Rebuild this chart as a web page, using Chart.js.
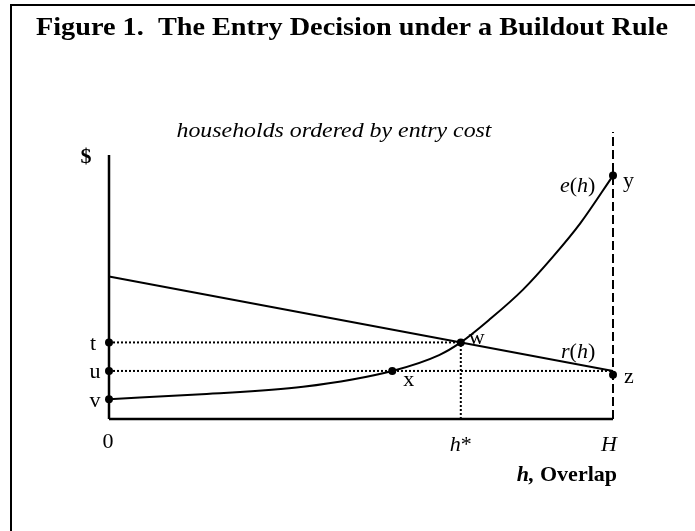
<!DOCTYPE html>
<html>
<head>
<meta charset="utf-8">
<title>Figure 1. The Entry Decision under a Buildout Rule</title>
<script src="https://cdn.jsdelivr.net/npm/chart.js"></script>
<style>
    body { margin: 0; background: #fff; }
    canvas { display: block; }
</style>
</head>
<body>
<canvas id="fig" width="695" height="531"></canvas>
<script>
// values (h runs 0..H, $ in arbitrary units 0..100)
const H = 100;
const hStar = 69.8;
const levelT = 29.0;   // r(h*) = e(h*)
const levelU = 18.2;   // r(H)
const levelV = 7.5;    // e(0)

// e(h): entry cost curve
const hGrid = [0, 18.4, 38.5, 56.2, 65.5, 69.8, 75.4, 82.1, 88.1, 93.5, 100];
const entryCost = [7.5, 9.4, 12.2, 18.2, 24.2, 29.0, 37.5, 48.9, 61.5, 74.1, 92.2];

// r(h): straight line
const revenueH = [0, 100];
const revenue = [54.0, 18.2];

// marked points
const markNames = ['v', 'u', 't', 'x', 'w', 'z', 'y'];
const markH = [0, 0, 0, 56.2, 69.8, 100, 100];
const markValues = [7.5, 18.2, 29.0, 18.2, 29.0, 16.8, 92.2];

const yTop = 100;      // top of the $ axis
const yMax = 108.7;    // top of the dashed H line

const pts = (xs, ys) => xs.map((x, i) => ({ x: x, y: ys[i] }));

function line(data, width, dash) {
    return {
        data: data,
        showLine: true,
        borderColor: '#000',
        borderWidth: width,
        borderDash: dash || [],
        pointRadius: 0,
        clip: false,
        fill: false
    };
}

const serif = "'Liberation Serif', 'Times New Roman', serif";

function runsWidth(ctx, runs) {
    let w = 0;
    runs.forEach(r => { ctx.font = r[1]; w += ctx.measureText(r[0]).width; });
    return w;
}

// draw a row of differently styled text pieces
function drawRuns(ctx, runs, x, y, align) {
    const w = runsWidth(ctx, runs);
    let cx = align === 'right' ? x - w : align === 'center' ? x - w / 2 : x;
    ctx.textAlign = 'left';
    runs.forEach(r => {
        ctx.font = r[1];
        ctx.fillText(r[0], cx, y);
        cx += ctx.measureText(r[0]).width;
    });
}

// draw text stretched to a given width
function drawFit(ctx, text, cx, y, font, width) {
    ctx.font = font;
    const w = ctx.measureText(text).width;
    ctx.save();
    ctx.translate(cx, y);
    ctx.scale(width / w, 1);
    ctx.textAlign = 'center';
    ctx.fillText(text, 0, 0);
    ctx.restore();
}

const annotations = {
    id: 'annotations',
    afterDraw(chart) {
        const ctx = chart.ctx;
        const xs = chart.scales.x, ys = chart.scales.y;
        ctx.save();
        ctx.fillStyle = '#000';
        ctx.textBaseline = 'alphabetic';

        // frame (only top and left edges are in view)
        ctx.strokeStyle = '#000';
        ctx.lineWidth = 2;
        ctx.beginPath();
        ctx.moveTo(11, 531);
        ctx.lineTo(11, 5);
        ctx.lineTo(695, 5);
        ctx.stroke();

        drawFit(ctx, 'Figure 1.  The Entry Decision under a Buildout Rule', 352, 35,
            'bold 26px ' + serif, 632);
        drawFit(ctx, 'households ordered by entry cost', 334, 137,
            'italic 22px ' + serif, 315);

        const it = 'italic 22px ' + serif, up = '22px ' + serif;
        const px = h => xs.getPixelForValue(h);
        const py = v => ys.getPixelForValue(v);

        ctx.font = 'bold 22px ' + serif;
        ctx.textAlign = 'center';
        ctx.fillText('$', 86, py(yTop) + 8);

        ctx.font = up;
        ctx.textAlign = 'center';
        ctx.fillText('t', 93, py(levelT) + 8);
        ctx.fillText('u', 95, py(levelU) + 7);
        ctx.fillText('v', 95, py(levelV) + 8);
        ctx.fillText('0', px(0) - 1, 448);

        drawRuns(ctx, [['h', it], ['*', up]], px(hStar), 451, 'center');
        drawRuns(ctx, [['H', it]], px(H) + 4, 451, 'right');
        drawRuns(ctx, [['h,', 'bold italic 22px ' + serif], [' Overlap', 'bold 22px ' + serif]],
            px(H) + 4, 481, 'right');

        ctx.font = up;
        ctx.textAlign = 'left';
        ctx.fillText('w', px(markH[4]) + 8, py(markValues[4]) + 2);
        ctx.fillText('x', px(markH[3]) + 11, py(markValues[3]) + 15);
        ctx.fillText('z', px(markH[5]) + 11, py(markValues[5]) + 8);
        ctx.fillText('y', px(markH[6]) + 10, py(markValues[6]) + 11);

        drawRuns(ctx, [['r', it], ['(', up], ['h', it], [')', up]], 561, 358, 'left');
        drawRuns(ctx, [['e', it], ['(', up], ['h', it], [')', up]], 560, 192, 'left');

        ctx.restore();
    }
};

new Chart(document.getElementById('fig'), {
    type: 'scatter',
    data: {
        datasets: [
            line(pts([0, 0], [0, yTop]), 2.5),                  // $ axis
            line(pts([0, H], [0, 0]), 2.5),                     // h axis
            line(pts([H, H], [0, yMax]), 2, [9, 4]),            // buildout H
            line(pts([0, hStar], [levelT, levelT]), 2, [2, 2]), // t - w
            line(pts([0, H], [levelU, levelU]), 2, [2, 2]),     // u - z
            line(pts([hStar, hStar], [0, levelT]), 2, [2, 2]),  // h* drop
            line(pts(revenueH, revenue), 2),                    // r(h)
            Object.assign(line(pts(hGrid, entryCost), 2), { cubicInterpolationMode: 'monotone' }), // e(h)
            {
                data: pts(markH, markValues),
                showLine: false,
                pointRadius: 4,
                pointBackgroundColor: '#000',
                pointBorderWidth: 0,
                clip: false
            }
        ]
    },
    options: {
        responsive: false,
        animation: false,
        layout: { padding: { left: 109, right: 82, top: 132, bottom: 112 } },
        plugins: { legend: { display: false }, tooltip: { enabled: false } },
        scales: {
            x: { type: 'linear', min: 0, max: H, display: false },
            y: { type: 'linear', min: 0, max: yMax, display: false }
        }
    },
    plugins: [annotations]
});
</script>
</body>
</html>
